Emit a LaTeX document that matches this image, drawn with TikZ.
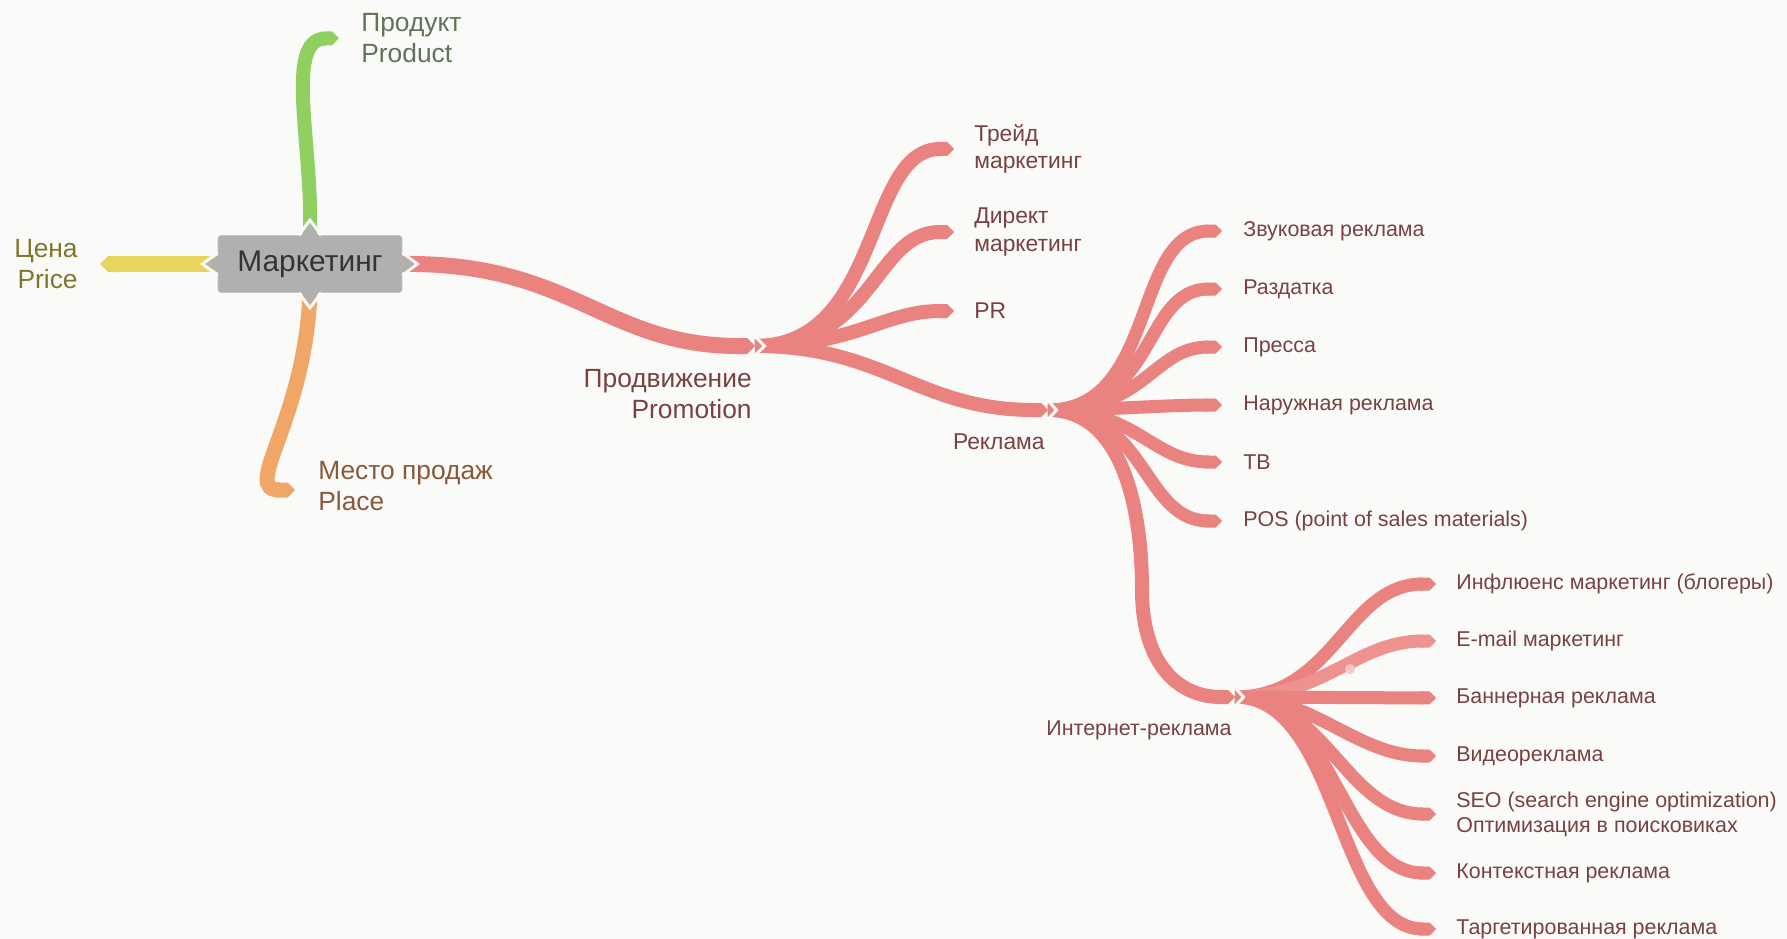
\documentclass[tikz,border=0pt]{standalone}
\usepackage{fontspec}
\setmainfont{Liberation Sans}
\usetikzlibrary{positioning,arrows.meta}
\usetikzlibrary{calc}

\definecolor{paper}{RGB}{250,250,248}
\definecolor{rootFill}{RGB}{176,176,176}
\definecolor{rootBorder}{RGB}{196,196,196}
\definecolor{rootText}{RGB}{52,52,52}
\definecolor{redBranch}{RGB}{234,131,128}
\definecolor{redText}{RGB}{120,66,66}
\definecolor{greenBranch}{RGB}{144,208,96}
\definecolor{greenText}{RGB}{96,116,86}
\definecolor{yellowBranch}{RGB}{232,214,92}
\definecolor{yellowText}{RGB}{128,118,44}
\definecolor{orangeBranch}{RGB}{240,166,102}
\definecolor{orangeText}{RGB}{138,88,58}

\begin{document}
\begin{tikzpicture}[x=0.02cm,y=-0.02cm]
  \newdimen\mapPx
  \mapPx=0.02cm

  \tikzstyle{rootTopic} = [
    % The shape:
    rectangle, minimum width=184\mapPx, minimum height=57\mapPx, rounded corners=0.6mm,
    % The border:
    draw=rootBorder, thin,
    % The filling:
    fill=rootFill,
    % Font:
    text=rootText, font=\fontsize{17}{20}\selectfont
  ];
  \tikzstyle{topicLabel} = [
    % Just text!
    inner sep=0pt, font=\fontsize{15}{17.6}\selectfont
  ];
  \tikzstyle{subLabel} = [
    % Just text!
    inner sep=0pt, text=redText, align=left, font=\fontsize{13}{15.5}\selectfont
  ];
  \tikzstyle{leafLabel} = [
    % Just text!
    inner sep=0pt, text=redText, align=left, font=\fontsize{12.2}{14.2}\selectfont
  ];
  \tikzstyle{flow} = [
    line width=16\mapPx,
    -{Triangle Cap}
  ];
  \tikzstyle{subFlow} = [
    draw=redBranch,
    line width=14\mapPx,
    -{Triangle Cap}
  ];
  \tikzstyle{leafFlow} = [
    draw=redBranch,
    line width=13\mapPx,
    -{Triangle Cap}
  ];
  \tikzstyle{notchGap} = [
    draw=paper,
    line width=3\mapPx,
    line join=miter
  ];

  \useasboundingbox (0,0) rectangle (1787,939);
  \fill[paper] (0,0) rectangle (1787,939);

  \node [rootTopic] (marketing) at (310,264) {Маркетинг};

  % ends of the branches
  \coordinate (price)     at (100,264);
  \coordinate (product)   at (339,38);
  \coordinate (place)     at (295,490);
  \coordinate (promo)     at (755,346);
  \coordinate (trade)     at (954,149);
  \coordinate (direct)    at (954,232);
  \coordinate (pr)        at (954,311);
  \coordinate (adv)       at (1048,410);
  \coordinate (sound)     at (1222,231);
  \coordinate (handout)   at (1222,289);
  \coordinate (press)     at (1222,347);
  \coordinate (outdoor)   at (1222,405);
  \coordinate (tv)        at (1222,462);
  \coordinate (pos)       at (1222,521);
  \coordinate (inetBend)  at (1142,590);
  \coordinate (inet)      at (1235,697);
  \coordinate (influence) at (1436,584);
  \coordinate (email)     at (1436,641);
  \coordinate (banner)    at (1436,698);
  \coordinate (video)     at (1436,756);
  \coordinate (seo)       at (1436,814);
  \coordinate (context)   at (1436,873);
  \coordinate (target)    at (1436,929);

  % Internet advertising
  \path [leafFlow] (inet) .. controls +(100,0) and +(-90,0) .. (influence);
  \path [leafFlow, draw=redBranch!88!white] (inet) .. controls +(90,0) and +(-80,0) .. (email);
  \path [leafFlow] (inet) to (banner);
  \path [leafFlow] (inet) .. controls +(80,0) and +(-80,0) .. (video);
  \path [leafFlow] (inet) .. controls +(90,0) and +(-90,0) .. (seo);
  \path [leafFlow] (inet) .. controls +(100,0) and +(-95,0) .. (context);
  \path [leafFlow] (inet) .. controls +(105,0) and +(-100,0) .. (target);
  \fill [redBranch!45!white] (1350,669) circle (5);
  \path [notchGap] ($(inet)+(-4.4,-14)$) -- ($(inet)+(8.6,0)$) -- ($(inet)+(-4.4,14)$);

  % Advertising
  \path [leafFlow] (adv) .. controls +(110,0) and +(-90,0) .. (sound);
  \path [leafFlow] (adv) .. controls +(110,0) and +(-80,0) .. (handout);
  \path [leafFlow] (adv) .. controls +(100,0) and +(-70,0) .. (press);
  \path [leafFlow] (adv) .. controls +(60,0) and +(-60,0) .. (outdoor);
  \path [leafFlow] (adv) .. controls +(90,0) and +(-70,0) .. (tv);
  \path [leafFlow] (adv) .. controls +(100,0) and +(-80,0) .. (pos);
  \path [subFlow, -] (adv) .. controls +(75,0) and +(0,-80) .. (inetBend);
  \path [subFlow] (inetBend) .. controls +(0,70) and +(-60,0) .. (inet);
  \path [notchGap] ($(adv)+(-4.4,-14)$) -- ($(adv)+(8.6,0)$) -- ($(adv)+(-4.4,14)$);

  % Promotion
  \path [subFlow] (promo) .. controls +(128,0) and +(-90,0) .. (trade);
  \path [subFlow] (promo) .. controls +(120,0) and +(-80,0) .. (direct);
  \path [subFlow] (promo) .. controls +(100,0) and +(-70,0) .. (pr);
  \path [subFlow] (promo) .. controls +(130,0) and +(-130,0) .. (adv);
  \path [notchGap] ($(promo)+(-4.4,-14)$) -- ($(promo)+(9.6,0)$) -- ($(promo)+(-4.4,14)$);

  % Four main branches
  \path [flow, draw=redBranch] (marketing.east) .. controls +(170,-2) and +(-150,0) .. (promo);
  \path [flow, draw=yellowBranch] (marketing.west) to (price);
  \path [flow, draw=greenBranch, line width=14\mapPx] (marketing.north) .. controls +(3,-90) and +(-55,2) .. (product);
  \path [flow, draw=orangeBranch, line width=15\mapPx] (marketing.south) .. controls +(-5,130) and +(-55,0) .. (place);

  % notches round the root
  \path [notchGap] ($(marketing.east)+(0,-11.25)$) -- ($(marketing.east)+(15,0)$) -- ($(marketing.east)+(0,11.25)$);
  \path [notchGap] ($(marketing.west)+(0,-11.25)$) -- ($(marketing.west)+(-15,0)$) -- ($(marketing.west)+(0,11.25)$);
  \path [notchGap] ($(marketing.north)+(-11.25,0)$) -- ($(marketing.north)+(0,-15)$) -- ($(marketing.north)+(11.25,0)$);
  \path [notchGap] ($(marketing.south)+(-11.25,0)$) -- ($(marketing.south)+(0,15)$) -- ($(marketing.south)+(11.25,0)$);
  \fill [rootFill] ($(marketing.east)+(-1,-9)$) -- ($(marketing.east)+(12,0)$) -- ($(marketing.east)+(-1,9)$) -- cycle;
  \fill [rootFill] ($(marketing.west)+(1,-9)$) -- ($(marketing.west)+(-12,0)$) -- ($(marketing.west)+(1,9)$) -- cycle;
  \fill [rootFill] ($(marketing.north)+(-9,1)$) -- ($(marketing.north)+(0,-12)$) -- ($(marketing.north)+(9,1)$) -- cycle;
  \fill [rootFill] ($(marketing.south)+(-9,-1)$) -- ($(marketing.south)+(0,12)$) -- ($(marketing.south)+(9,-1)$) -- cycle;

  % labels
  \node [topicLabel, text=yellowText, align=right, left=0.44cm of price] (priceLabel) {Цена\\Price};
  \node [topicLabel, text=greenText, align=left, right=0.44cm of product] (productLabel) {Продукт\\Product};
  \node [topicLabel, text=orangeText, align=left, right=0.46cm of place, yshift=0.08cm] (placeLabel) {Место продаж\\Place};
  \node [topicLabel, text=redText, align=right, below left=0.46cm and 0.06cm of promo] (promoLabel) {Продвижение\\Promotion};

  \node [subLabel, right=0.4cm of trade] (tradeLabel) {Трейд\\маркетинг};
  \node [subLabel, right=0.4cm of direct] (directLabel) {Директ\\маркетинг};
  \node [subLabel, right=0.4cm of pr] (prLabel) {PR};
  \node [subLabel, below left=0.47cm and 0.06cm of adv] (advLabel) {Реклама};

  \node [leafLabel, right=0.42cm of sound] (soundLabel) {Звуковая реклама};
  \node [leafLabel, right=0.42cm of handout] (handoutLabel) {Раздатка};
  \node [leafLabel, right=0.42cm of press] (pressLabel) {Пресса};
  \node [leafLabel, right=0.42cm of outdoor] (outdoorLabel) {Наружная реклама};
  \node [leafLabel, right=0.42cm of tv] (tvLabel) {ТВ};
  \node [leafLabel, right=0.42cm of pos] (posLabel) {POS (point of sales materials)};
  \node [leafLabel, below left=0.47cm and 0.06cm of inet] (inetLabel) {Интернет-реклама};

  \node [leafLabel, right=0.4cm of influence] (influenceLabel) {Инфлюенс маркетинг (блогеры)};
  \node [leafLabel, right=0.4cm of email] (emailLabel) {E-mail маркетинг};
  \node [leafLabel, right=0.4cm of banner] (bannerLabel) {Баннерная реклама};
  \node [leafLabel, right=0.4cm of video] (videoLabel) {Видеореклама};
  \node [leafLabel, right=0.4cm of seo] (seoLabel) {SEO (search engine optimization)\\Оптимизация в поисковиках};
  \node [leafLabel, right=0.4cm of context] (contextLabel) {Контекстная реклама};
  \node [leafLabel, right=0.4cm of target] (targetLabel) {Таргетированная реклама};
\end{tikzpicture}
\end{document}
